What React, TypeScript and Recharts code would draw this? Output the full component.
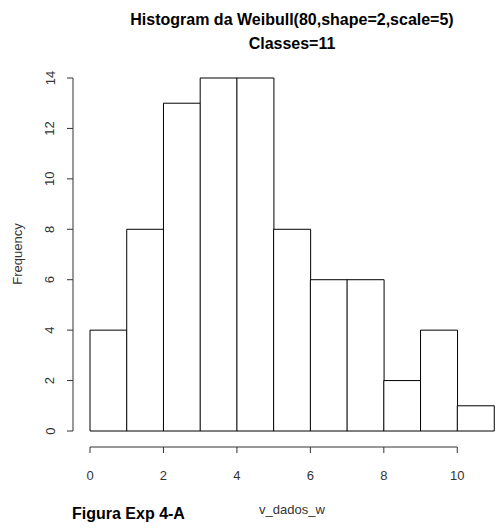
import { BarChart, Bar, XAxis, YAxis } from 'recharts';

// histogram of 80 Weibull draws, 11 classes of width 1
const binStarts = [0, 1, 2, 3, 4, 5, 6, 7, 8, 9, 10];
const counts = [4, 8, 13, 14, 14, 8, 6, 6, 2, 4, 1];
const yTicks = [0, 2, 4, 6, 8, 10, 12, 14];
const xTicks = [0, 2, 4, 6, 8, 10];

const W = 495;
const H = 528;
const FONT = '"Liberation Sans", Arial, sans-serif';
const PLOT_LEFT = 90;
const PLOT_RIGHT = 1;
const PLOT_TOP = 78;
const X_AXIS_H = 97;
const UNIT_X = (W - PLOT_LEFT - PLOT_RIGHT) / binStarts.length;
const UNIT_Y = (H - PLOT_TOP - X_AXIS_H) / yTicks[yTicks.length - 1];
const AXIS_GAP = 17; // R draws axes a little off the plot region

const data = binStarts.map((s, i) => ({ bin: `${s}-${s + 1}`, start: s, count: counts[i] }));

function YTick(props: any) {
  const { x, y, payload } = props;
  const ax = x - AXIS_GAP;
  const cx = ax - 23;
  const last = yTicks[yTicks.length - 1];
  const step = yTicks[1] - yTicks[0];
  return (
    <g>
      {payload.value < last && (
        <line x1={ax} y1={y} x2={ax} y2={y - step * UNIT_Y} stroke="#333" strokeWidth={1} />
      )}
      <line x1={ax} y1={y} x2={ax - 6} y2={y} stroke="#333" strokeWidth={1} />
      <text x={cx} y={y} transform={`rotate(-90, ${cx}, ${y})`} textAnchor="middle" dominantBaseline="central"
        fontFamily={FONT} fontSize={13} fill="#333">
        {payload.value}
      </text>
    </g>
  );
}

function XTick(props: any) {
  const { x, y, payload } = props;
  const ay = y + 16;
  const last = xTicks[xTicks.length - 1];
  const step = xTicks[1] - xTicks[0];
  return (
    <g>
      {payload.value < last && (
        <line x1={x} y1={ay} x2={x + step * UNIT_X} y2={ay} stroke="#333" strokeWidth={1} />
      )}
      <line x1={x} y1={ay} x2={x} y2={ay + 6} stroke="#333" strokeWidth={1} />
      <text x={x} y={y + 44} textAnchor="middle" dominantBaseline="central" fontFamily={FONT} fontSize={13} fill="#333">
        {payload.value}
      </text>
    </g>
  );
}

export default function App() {
  return (
    <div style={{ position: 'absolute', left: 0, top: 0, width: W, height: H, background: '#fff', fontFamily: FONT }}>
      <div style={{ position: 'absolute', left: PLOT_LEFT, width: W - PLOT_LEFT - PLOT_RIGHT, top: 8, textAlign: 'center',
        fontWeight: 'bold', fontSize: 16, lineHeight: '24px', color: '#000' }}>
        Histogram da Weibull(80,shape=2,scale=5)<br />Classes=11
      </div>
      <div style={{ position: 'absolute', left: 17, top: 254, transform: 'translate(-50%, -50%) rotate(-90deg)',
        fontSize: 13, color: '#333', whiteSpace: 'nowrap' }}>
        Frequency
      </div>
      <div style={{ position: 'absolute', left: 72, top: 505, fontWeight: 'bold', fontSize: 16, color: '#000' }}>
        Figura Exp 4-A
      </div>
      <BarChart width={W} height={H} data={data} margin={{ top: PLOT_TOP, right: PLOT_RIGHT, left: PLOT_LEFT - AXIS_GAP, bottom: 0 }}
        barCategoryGap={0} barGap={0}>
        <XAxis xAxisId="num" dataKey="start" type="number" domain={[0, 11]} allowDataOverflow ticks={xTicks}
          interval={0} height={X_AXIS_H} axisLine={false} tickLine={false} tickSize={0} tickMargin={0} tick={<XTick />}
          label={{ value: 'v_dados_w', position: 'insideBottom', offset: 14, fill: '#333', fontSize: 13, fontFamily: FONT }} />
        <XAxis xAxisId="bins" dataKey="bin" hide height={0} />
        <YAxis domain={[0, 14]} ticks={yTicks} interval={0} width={AXIS_GAP} tickSize={0} tickMargin={0}
          axisLine={false} tickLine={false} tick={<YTick />} />
        <Bar xAxisId="bins" dataKey="count" fill="#fff" stroke="#000" strokeWidth={1} isAnimationActive={false} />
      </BarChart>
    </div>
  );
}
